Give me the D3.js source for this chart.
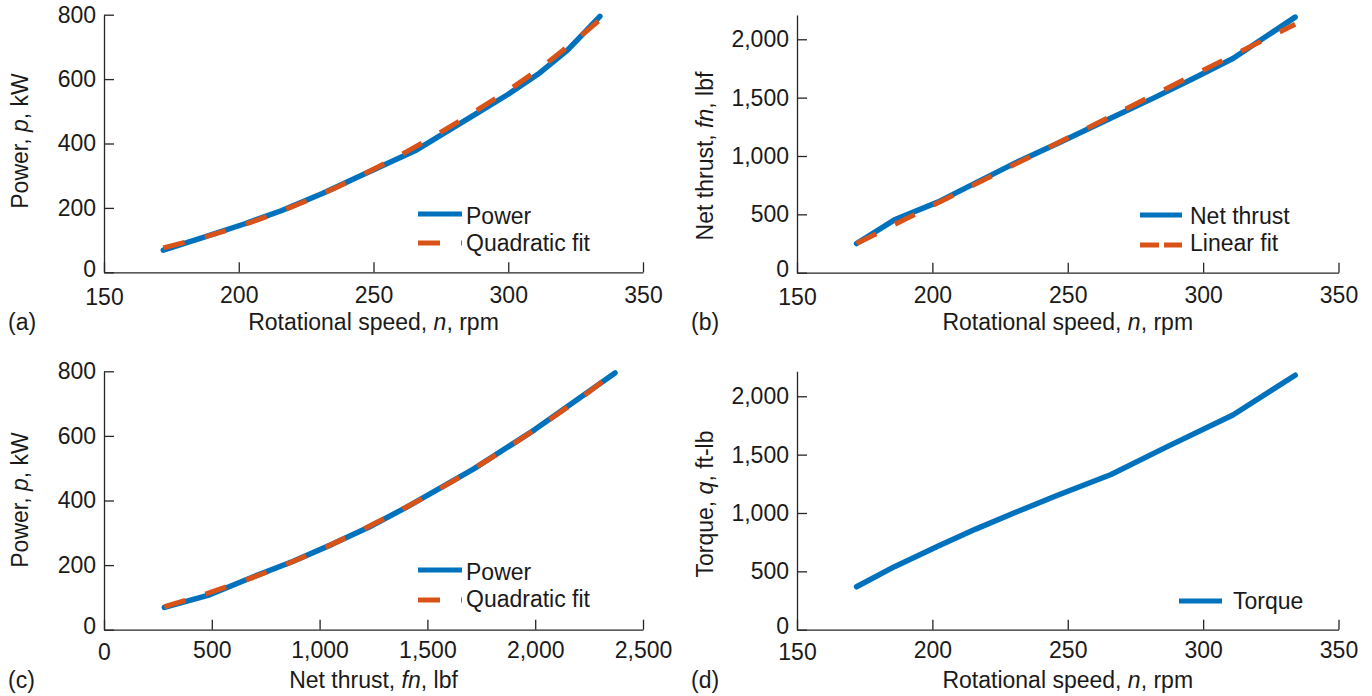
<!DOCTYPE html>
<html>
<head>
<meta charset="utf-8">
<script src="https://cdn.jsdelivr.net/npm/d3@7"></script>
<style>
  body { margin: 0; background: #fff; }
  svg text { font-family: "Liberation Sans", Arial, sans-serif; fill: #1a1a1a; }
</style>
</head>
<body>
<svg id="chart" width="1372" height="696"></svg>
<script>
// ---- data ----
// (a) power vs rotational speed
const rpm = [172, 186, 202, 216, 231, 246, 266, 288, 300, 311, 322, 334];
const powerKW = [69, 106, 150, 192, 245, 303, 380, 492, 553, 615, 690, 795];
const fitRpm = [172, 190, 210, 230, 250, 270, 290, 310, 334];
const powerFitKW = [76, 116, 172, 240, 320, 411, 512, 623, 784];

// (b) net thrust vs rotational speed
const thrustRpm = [172, 186, 202, 216, 231, 246, 266, 282, 296, 311, 334];
const netThrustLbf = [250, 453, 605, 770, 945, 1105, 1325, 1500, 1660, 1835, 2190];
const linFitRpm = [172, 334];
const thrustFitLbf = [250, 2129];

// (c) power vs net thrust
const thrustPts = [280, 490, 690, 878, 1060, 1230, 1400, 1715, 1995, 2370];
const powerVsThrustKW = [69, 108, 163, 212, 265, 318, 378, 498, 618, 795];
const fitThrust = [280, 500, 750, 1000, 1250, 1500, 1750, 2000, 2250, 2370];
const powerFitVsThrustKW = [71, 117, 177, 247, 327, 415, 513, 620, 737, 797];

// (d) torque vs rotational speed
const torqueRpm = [172, 186, 202, 216, 231, 246, 266, 286, 311, 334];
const torqueFtLb = [368, 540, 715, 862, 1008, 1150, 1330, 1560, 1840, 2180];

// tick values
const rpmTicks = [150, 200, 250, 300, 350];
const powerTicks = [0, 200, 400, 600, 800];
const lbfTicks = [0, 500, 1000, 1500, 2000];
const thrustAxisTicks = [0, 500, 1000, 1500, 2000, 2500];

// ---- drawing ----
const BLUE = "#0072BD", RED = "#D95319", AXIS = "#262626";
const FONT = "23px";
const svg = d3.select("#chart");
const fmt = d3.format(",");

function richText(sel, parts) {
  parts.forEach(([t, it]) => {
    const ts = sel.append("tspan").text(t);
    if (it) ts.attr("font-style", "italic");
  });
}

function drawPanel(cfg) {
  const g = svg.append("g");
  const x = d3.scaleLinear().domain(cfg.xDomain).range([cfg.left, cfg.right]);
  const y = d3.scaleLinear().domain(cfg.yDomain).range([cfg.bottom, cfg.top]);

  const xa = g.append("g").attr("transform", `translate(0,${cfg.bottom})`)
    .call(d3.axisBottom(x).tickValues(cfg.xTicks).tickFormat(fmt)
      .tickSizeInner(-10).tickSizeOuter(0).tickPadding(cfg.xPad));
  const ya = g.append("g").attr("transform", `translate(${cfg.left},0)`)
    .call(d3.axisLeft(y).tickValues(cfg.yTicks).tickFormat(fmt)
      .tickSizeInner(-10).tickSizeOuter(0).tickPadding(8));
  [xa, ya].forEach(a => {
    a.attr("font-size", FONT).attr("font-family", null);
    a.select(".domain").attr("stroke", AXIS).attr("stroke-width", 1.3);
    a.selectAll(".tick line").attr("stroke", AXIS).attr("stroke-width", 1.3);
    a.selectAll(".tick text").attr("fill", "#1a1a1a");
  });
  // keep the two corner labels (y = 0 and the first x tick) clear of each other
  ya.selectAll(".tick").filter(d => d === cfg.yDomain[0]).select("text").attr("dy", "0.18em");
  xa.selectAll(".tick").filter(d => d === cfg.xDomain[0]).select("text").attr("dy", "0.8em");

  // data series
  cfg.series.forEach(s => {
    const line = d3.line()
      .x(d => x(d[0])).y(d => y(d[1]))
      .curve(s.smooth ? d3.curveMonotoneX : d3.curveLinear);
    const p = g.append("path")
      .datum(d3.zip(s.xs, s.ys))
      .attr("fill", "none")
      .attr("stroke", s.color)
      .attr("stroke-width", s.width)
      .attr("stroke-linejoin", "round")
      .attr("stroke-linecap", s.dash ? "butt" : "round")
      .attr("d", line);
    if (s.dash) p.attr("stroke-dasharray", s.dash);
  });

  // legend
  cfg.legend.forEach(e => {
    const l = g.append("line")
      .attr("x1", e.x0).attr("x2", e.x1).attr("y1", e.y).attr("y2", e.y)
      .attr("stroke", e.color).attr("stroke-width", 5);
    if (e.dash) l.attr("stroke-dasharray", e.dash);
    g.append("text").attr("x", e.tx).attr("y", e.ty)
      .style("font-size", FONT).text(e.label);
  });

  // axis titles
  const xl = g.append("text")
    .attr("x", (cfg.left + cfg.right) / 2).attr("y", cfg.xLabelY)
    .attr("text-anchor", "middle").style("font-size", FONT);
  richText(xl, cfg.xLabel);
  const yl = g.append("text")
    .attr("transform", `translate(${cfg.yLabelX},${cfg.yLabelCy}) rotate(-90)`)
    .attr("text-anchor", "middle").style("font-size", FONT);
  richText(yl, cfg.yLabel);

  g.append("text").attr("x", cfg.tagX).attr("y", cfg.xLabelY)
    .style("font-size", FONT).text(cfg.tag);
}

const rpmLabel = [["Rotational speed, "], ["n", true], [", rpm"]];
const powerLabel = [["Power, "], ["p", true], [", kW"]];
const thrustLabel = [["Net thrust, "], ["fn", true], [", lbf"]];
const torqueLabel = [["Torque, "], ["q", true], [", ft-lb"]];
const DASH = "22,21";

drawPanel({
  tag: "(a)", tagX: 8,
  left: 104, right: 643, top: 14.7, bottom: 272.3,
  xDomain: [150, 350], yDomain: [0, 800], xTicks: rpmTicks, yTicks: powerTicks, xPad: 14,
  xLabel: rpmLabel, xLabelY: 330, yLabel: powerLabel, yLabelX: 28, yLabelCy: 141,
  series: [
    { xs: rpm, ys: powerKW, color: BLUE, width: 5.5 },
    { xs: fitRpm, ys: powerFitKW, color: RED, width: 5, dash: DASH, smooth: true }
  ],
  legend: [
    { label: "Power", color: BLUE, x0: 418, x1: 462, y: 214, tx: 466, ty: 224 },
    { label: "Quadratic fit", color: RED, dash: DASH, x0: 418, x1: 462, y: 243, tx: 466, ty: 251 }
  ]
});

drawPanel({
  tag: "(b)", tagX: 691,
  left: 797, right: 1338.5, top: 15, bottom: 272.7,
  xDomain: [150, 350], yDomain: [0, 2208], xTicks: rpmTicks, yTicks: lbfTicks, xPad: 14,
  xLabel: rpmLabel, xLabelY: 330, yLabel: thrustLabel, yLabelX: 713, yLabelCy: 156,
  series: [
    { xs: thrustRpm, ys: netThrustLbf, color: BLUE, width: 5.5 },
    { xs: linFitRpm, ys: thrustFitLbf, color: RED, width: 5, dash: DASH }
  ],
  legend: [
    { label: "Net thrust", color: BLUE, x0: 1140, x1: 1182, y: 215, tx: 1190, ty: 224 },
    { label: "Linear fit", color: RED, dash: "19,5", x0: 1140, x1: 1182, y: 245, tx: 1190, ty: 251 }
  ]
});

drawPanel({
  tag: "(c)", tagX: 8,
  left: 104, right: 643, top: 371.3, bottom: 629.7,
  xDomain: [0, 2500], yDomain: [0, 800], xTicks: thrustAxisTicks, yTicks: powerTicks, xPad: 12,
  xLabel: thrustLabel, xLabelY: 688, yLabel: powerLabel, yLabelX: 28, yLabelCy: 500,
  series: [
    { xs: thrustPts, ys: powerVsThrustKW, color: BLUE, width: 5.5 },
    { xs: fitThrust, ys: powerFitVsThrustKW, color: RED, width: 5, dash: DASH, smooth: true }
  ],
  legend: [
    { label: "Power", color: BLUE, x0: 418, x1: 462, y: 570, tx: 466, ty: 580 },
    { label: "Quadratic fit", color: RED, dash: DASH, x0: 418, x1: 462, y: 600, tx: 466, ty: 607 }
  ]
});

drawPanel({
  tag: "(d)", tagX: 691,
  left: 797, right: 1338.5, top: 371.3, bottom: 629.7,
  xDomain: [150, 350], yDomain: [0, 2214], xTicks: rpmTicks, yTicks: lbfTicks, xPad: 12,
  xLabel: rpmLabel, xLabelY: 688, yLabel: torqueLabel, yLabelX: 713, yLabelCy: 504,
  series: [
    { xs: torqueRpm, ys: torqueFtLb, color: BLUE, width: 5.5 }
  ],
  legend: [
    { label: "Torque", color: BLUE, x0: 1179, x1: 1222, y: 601, tx: 1233, ty: 609 }
  ]
});
</script>
</body>
</html>
